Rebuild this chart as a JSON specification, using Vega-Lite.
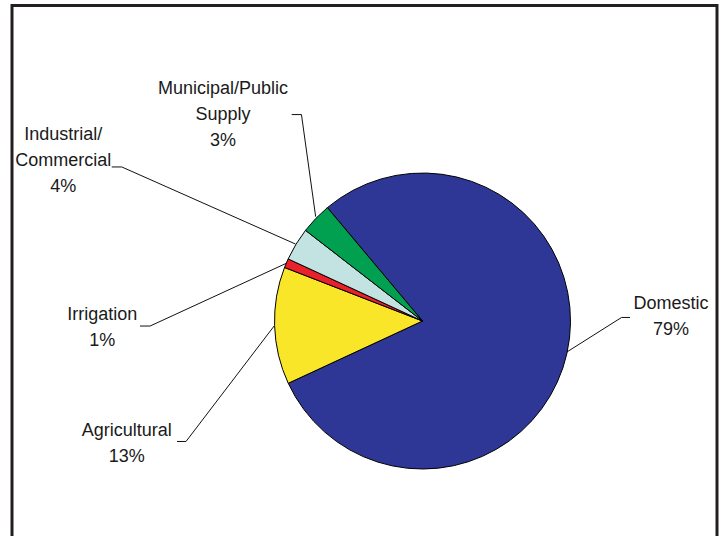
{
  "$schema": "https://vega.github.io/schema/vega-lite/v6.json",
  "width": 723,
  "height": 536,
  "autosize": {"type": "fit", "contains": "padding"},
  "padding": {"left": 12, "top": 5.5, "right": 6, "bottom": -3},
  "background": "white",
  "config": {
    "view": {"stroke": "#231f20", "strokeWidth": 3},
    "text": {"font": "Liberation Sans", "fontSize": 18, "lineHeight": 26, "lineBreak": "\n", "color": "#1a1a1a"}
  },
  "datasets": {
    "slices": [
      {"use": "Domestic", "value": 79.2, "seq": 1},
      {"use": "Agricultural", "value": 12.8, "seq": 2},
      {"use": "Irrigation", "value": 1.0, "seq": 3},
      {"use": "Industrial/Commercial", "value": 3.6, "seq": 4},
      {"use": "Municipal/Public Supply", "value": 3.4, "seq": 5}
    ],
    "labels": [
      {"use": "Municipal/Public Supply", "text": "Municipal/Public\nSupply\n3%", "lx": -1.348, "ly": 1.566},
      {"use": "Industrial/Commercial", "text": "Industrial/\nCommercial\n4%", "lx": -2.427, "ly": 1.26},
      {"use": "Irrigation", "text": "Irrigation\n1%", "lx": -2.164, "ly": 0.041},
      {"use": "Agricultural", "text": "Agricultural\n13%", "lx": -1.998, "ly": -0.743},
      {"use": "Domestic", "text": "Domestic\n79%", "lx": 1.679, "ly": 0.113}
    ],
    "leaders": [
      {"use": "Municipal/Public Supply", "k": 1, "px": -0.884, "py": 1.395},
      {"use": "Municipal/Public Supply", "k": 2, "px": -0.818, "py": 1.395},
      {"use": "Municipal/Public Supply", "k": 3, "px": -0.722, "py": 0.705},
      {"use": "Industrial/Commercial", "k": 1, "px": -2.100, "py": 1.041},
      {"use": "Industrial/Commercial", "k": 2, "px": -2.032, "py": 1.041},
      {"use": "Industrial/Commercial", "k": 3, "px": -0.858, "py": 0.520},
      {"use": "Irrigation", "k": 1, "px": -1.909, "py": -0.034},
      {"use": "Irrigation", "k": 2, "px": -1.841, "py": -0.034},
      {"use": "Irrigation", "k": 3, "px": -0.916, "py": 0.392},
      {"use": "Agricultural", "k": 1, "px": -1.659, "py": -0.814},
      {"use": "Agricultural", "k": 2, "px": -1.598, "py": -0.814},
      {"use": "Agricultural", "k": 3, "px": -1.003, "py": -0.034},
      {"use": "Domestic", "k": 1, "px": 1.402, "py": 0.024},
      {"use": "Domestic", "k": 2, "px": 1.345, "py": 0.024},
      {"use": "Domestic", "k": 3, "px": 0.976, "py": -0.209}
    ]
  },
  "layer": [
    {
      "data": {"name": "slices"},
      "mark": {"type": "arc", "outerRadius": 148, "stroke": "#000000", "strokeWidth": 1},
      "encoding": {
        "x": {"datum": 0, "type": "quantitative", "scale": {"domain": [-2.774, 1.990], "nice": false, "zero": false}, "axis": null},
        "y": {"datum": 0, "type": "quantitative", "scale": {"domain": [-1.473, 2.132], "nice": false, "zero": false}, "axis": null},
        "theta": {"field": "value", "type": "quantitative", "stack": true, "scale": {"domain": [0, 100], "range": [5.5851, 11.8683]}},
        "order": {"field": "seq", "type": "quantitative"},
        "color": {
          "field": "use", "type": "nominal", "legend": null,
          "scale": {
            "domain": ["Domestic", "Agricultural", "Irrigation", "Industrial/Commercial", "Municipal/Public Supply"],
            "range": ["#2e3796", "#fae629", "#e8212b", "#c2e3e1", "#00a050"]
          }
        }
      }
    },
    {
      "data": {"name": "leaders"},
      "mark": {"type": "line", "color": "#111111", "strokeWidth": 1},
      "encoding": {
        "x": {"field": "px", "type": "quantitative"},
        "y": {"field": "py", "type": "quantitative"},
        "detail": {"field": "use", "type": "nominal"},
        "order": {"field": "k", "type": "quantitative"}
      }
    },
    {
      "data": {"name": "labels"},
      "mark": {"type": "text", "align": "center", "baseline": "middle"},
      "encoding": {
        "x": {"field": "lx", "type": "quantitative"},
        "y": {"field": "ly", "type": "quantitative"},
        "text": {"field": "text", "type": "nominal"}
      }
    },
    {
      "mark": {"type": "rule", "color": "#b3b3b3", "strokeWidth": 3, "clip": false},
      "encoding": {
        "x": {"datum": -2.845, "type": "quantitative"}
      }
    }
  ]
}
